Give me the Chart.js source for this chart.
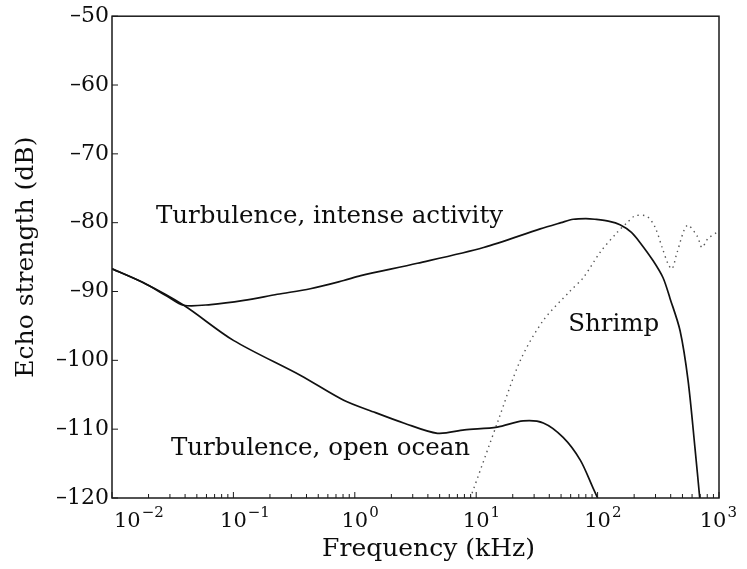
<!DOCTYPE html>
<html>
<head>
<meta charset="utf-8">
<script src="https://cdn.jsdelivr.net/npm/chart.js@4.4.1/dist/chart.umd.min.js"></script>
<style>
  html, body { margin: 0; padding: 0; background: #ffffff; }
  #wrap { width: 747px; height: 569px; position: relative; }
</style>
</head>
<body>
<div id="wrap"><canvas id="c" width="747" height="569"></canvas></div>
<script>
// ---- Data ----
const intenseFreq = [0.01, 0.018, 0.028, 0.039, 0.065, 0.122, 0.23, 0.43, 0.81, 1.12, 3.28, 11.5, 33.7, 50, 63, 80, 95, 125, 153, 190, 224, 286, 346, 395, 478, 556, 633, 694];
const intenseDb   = [-86.7, -88.7, -90.6, -92.0, -91.9, -91.3, -90.4, -89.6, -88.4, -87.7, -85.9, -83.6, -80.9, -80.0, -79.5, -79.4, -79.5, -79.8, -80.3, -81.4, -82.9, -85.5, -88.0, -91.0, -95.7, -102.9, -112.6, -120];

const oceanFreq = [0.01, 0.018, 0.039, 0.1, 0.358, 0.81, 1.48, 2.52, 4.8, 8.0, 14.9, 24.4, 35.7, 52, 72, 92, 100];
const oceanDb   = [-86.7, -88.7, -92.0, -97.1, -102.2, -105.8, -107.6, -109.1, -110.6, -110.1, -109.7, -108.8, -109.1, -111.2, -114.5, -118.6, -120];

const shrimpFreq = [8.95, 15.2, 23.1, 35.7, 59.6, 76.2, 105, 145, 175, 204, 256, 298, 340, 381, 411, 452, 546, 659, 724, 811, 963];
const shrimpDb   = [-120, -108.7, -100, -94.2, -89.9, -88.0, -84.3, -81.4, -80.0, -79.0, -79.1, -80.7, -83.6, -86.0, -86.7, -84.3, -80.4, -81.9, -83.6, -82.3, -81.4];

const xMajor = [0.01, 0.1, 1, 10, 100, 1000];
const xTickBase = '10';
const xTickExp = ['\u22122', '\u22121', '0', '1', '2', '3'];
const yTicks = [-120, -110, -100, -90, -80, -70, -60, -50];

const xTitle = 'Frequency (kHz)';
const yTitle = 'Echo strength (dB)';
const curveLabels = ['Turbulence, intense activity', 'Turbulence, open ocean', 'Shrimp'];
const curveLabelFreq = [0.0230, 0.0306, 57.3];
const curveLabelDb = [-80.0, -113.8, -95.7];

// ---- helpers ----
const pts = (fs, ds) => fs.map((f, i) => ({ x: f, y: ds[i] }));
const SERIF = '"DejaVu Serif", "Liberation Serif", serif';
const isMajor = v => Math.abs(Math.log10(v) - Math.round(Math.log10(v))) < 1e-9;
const INK = '#0d0d0d';

const decor = {
  id: 'decor',
  afterDraw(chart) {
    const { ctx, chartArea: a, scales: { x, y } } = chart;
    ctx.save();
    ctx.strokeStyle = '#1a1a1a';
    ctx.lineWidth = 1.5;
    ctx.strokeRect(a.left, a.top, a.right - a.left, a.bottom - a.top);
    ctx.lineWidth = 1;
    ctx.beginPath();
    x.ticks.forEach(t => {
      const px = x.getPixelForValue(t.value);
      const len = isMajor(t.value) ? 6 : 4;
      ctx.moveTo(px, a.bottom);
      ctx.lineTo(px, a.bottom - len);
    });
    y.ticks.forEach(t => {
      const py = y.getPixelForValue(t.value);
      ctx.moveTo(a.left, py);
      ctx.lineTo(a.left + 6, py);
    });
    ctx.stroke();

    // x tick labels: base "10" with raised exponent
    ctx.fillStyle = INK;
    ctx.textBaseline = 'alphabetic';
    ctx.textAlign = 'left';
    const baseFont = '21px ' + SERIF, expFont = '15px ' + SERIF;
    xMajor.forEach((m, i) => {
      const px = x.getPixelForValue(m);
      ctx.font = baseFont;
      const wb = ctx.measureText(xTickBase).width;
      ctx.font = expFont;
      const we = ctx.measureText(xTickExp[i]).width;
      let left = px - wb / 2;
      left = Math.max(left, a.left + 2);
      left = Math.min(left, a.right + 18 - wb - we - 1);
      const base = a.bottom + 29;
      ctx.font = baseFont;
      ctx.fillText(xTickBase, left, base);
      ctx.font = expFont;
      ctx.fillText(xTickExp[i], left + wb + 1, base - 10);
    });

    // x-axis title (slightly right of the plot centre, as in the reference)
    ctx.font = '25px ' + SERIF;
    ctx.textAlign = 'center';
    ctx.textBaseline = 'middle';
    ctx.fillText(xTitle, (a.left + a.right) / 2 + 13, 549);

    // curve annotations
    ctx.textAlign = 'left';
    ctx.textBaseline = 'alphabetic';
    ctx.font = '24.5px ' + SERIF;
    curveLabels.forEach((txt, i) => {
      ctx.fillText(txt, x.getPixelForValue(curveLabelFreq[i]), y.getPixelForValue(curveLabelDb[i]));
    });
    ctx.restore();
  }
};

new Chart(document.getElementById('c'), {
  type: 'line',
  data: {
    datasets: [
      { label: curveLabels[0], data: pts(intenseFreq, intenseDb), borderColor: '#111', borderWidth: 1.7, pointRadius: 0, tension: 0.3, fill: false },
      { label: curveLabels[1], data: pts(oceanFreq, oceanDb), borderColor: '#111', borderWidth: 1.7, pointRadius: 0, tension: 0.3, fill: false },
      { label: curveLabels[2], data: pts(shrimpFreq, shrimpDb), borderColor: '#555', borderWidth: 1.4, borderDash: [1.4, 4], pointRadius: 0, tension: 0.3, fill: false }
    ]
  },
  options: {
    responsive: true,
    maintainAspectRatio: false,
    animation: false,
    devicePixelRatio: 1,
    layout: { padding: { top: 15, right: 28, left: 0, bottom: 0 } },
    plugins: { legend: { display: false }, tooltip: { enabled: false } },
    scales: {
      x: {
        type: 'logarithmic',
        min: 0.01,
        max: 1000,
        afterBuildTicks(scale) {
          const t = [];
          xMajor.forEach((m, i) => {
            t.push({ value: m });
            if (i < xMajor.length - 1) for (let k = 2; k <= 9; k++) t.push({ value: k * m });
          });
          scale.ticks = t;
        },
        afterFit(scale) { scale.height = 71; },
        grid: { display: false, drawTicks: false },
        border: { display: false },
        ticks: { display: false, autoSkip: false, maxRotation: 0 },
        title: { display: false, text: xTitle }
      },
      y: {
        min: -120,
        max: -50,
        afterBuildTicks(scale) { scale.ticks = yTicks.map(v => ({ value: v })); },
        afterFit(scale) { scale.width = 112; },
        grid: { display: false, drawTicks: false },
        border: { display: false },
        ticks: {
          padding: 3,
          color: INK,
          font: { family: SERIF, size: 22 },
          callback(v) { return String(v).replace('-', '\u2013'); }
        },
        title: { display: true, text: yTitle, color: INK, font: { family: SERIF, size: 25 }, padding: { top: 11, bottom: 0 } }
      }
    }
  },
  plugins: [decor]
});
</script>
</body>
</html>
